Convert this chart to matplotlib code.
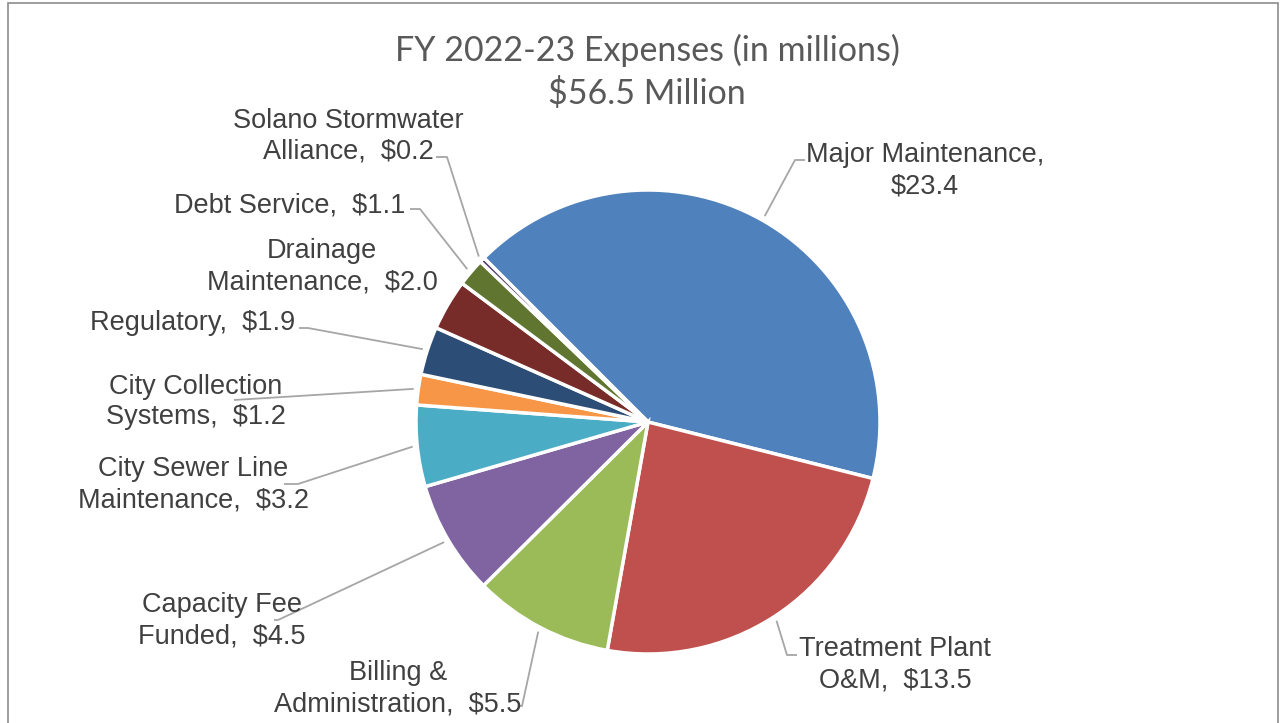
import numpy as np
import matplotlib
matplotlib.use("Agg")
import matplotlib.pyplot as plt
from matplotlib.patches import Rectangle

# ---- data ----
categories = ["Major Maintenance", "Treatment Plant\nO&M", "Billing &\nAdministration",
              "Capacity Fee\nFunded", "City Sewer Line\nMaintenance", "City Collection\nSystems",
              "Regulatory", "Drainage\nMaintenance", "Debt Service", "Solano Stormwater\nAlliance"]
values = [23.4, 13.5, 5.5, 4.5, 3.2, 1.2, 1.9, 2.0, 1.1, 0.2]
colors = ["#4F81BD", "#C0504D", "#9BBB59", "#8064A2", "#4BACC6", "#F79646",
          "#2C4D75", "#772C2A", "#5F7530", "#4D3B62"]
label_texts = ["Major Maintenance,\n$23.4", "Treatment Plant\nO&M,  $13.5",
               "Billing &\nAdministration,  $5.5", "Capacity Fee\nFunded,  $4.5",
               "City Sewer Line\nMaintenance,  $3.2", "City Collection\nSystems,  $1.2",
               "Regulatory,  $1.9", "Drainage\nMaintenance,  $2.0", "Debt Service,  $1.1",
               "Solano Stormwater\nAlliance,  $0.2"]
title_lines = ["FY 2022-23 Expenses (in millions)", "$56.5 Million"]

# ---- layout (pixel units, y measured from top) ----
W, H = 1283, 723
CX, CY, R = 648, 422, 232
label_pos = [(925, 171), (895, 665), (398, 689), (222, 621), (193, 485),
             (196, 402), (193, 323), (322, 267), (290, 205), (348, 136)]
# knee and stub end of leader lines (None => no leader)
knees = [((795, 160), (805, 160)), ((787, 655), (797, 655)), ((522, 706), (518, 706)),
         ((278, 620), (274, 620)), ((298, 484), (284, 484)), ((234, 400), (234, 400)),
         ((308, 328), (299, 328)), None, ((420, 209), (410, 209)), ((447, 157), (436, 157))]

fig = plt.figure(figsize=(W / 100, H / 100), dpi=100)
ax = fig.add_axes([0, 0, 1, 1])

wedges, _ = ax.pie(values, colors=colors, startangle=135, counterclock=False,
                   center=(CX, H - CY), radius=R,
                   wedgeprops=dict(edgecolor="white", linewidth=2.5))
ax.set_xlim(0, W)
ax.set_ylim(0, H)
ax.set_aspect("equal")
ax.axis("off")

# chart border
ax.add_patch(Rectangle((8, -10), 1270, H - 3 + 10, fill=False, edgecolor="#8C8C8C",
                       linewidth=1.2, zorder=0))

lab_font = dict(family=["Liberation Sans", "DejaVu Sans"], size=19.5, color="#404040")
for w, txt, (lx, ly), kn in zip(wedges, label_texts, label_pos, knees):
    ang = np.deg2rad((w.theta1 + w.theta2) / 2)
    px = CX + R * 1.02 * np.cos(ang)
    py = (H - CY) + R * 1.02 * np.sin(ang)
    if kn is not None:
        (kx, ky), (sx, sy) = kn
        ax.plot([px, kx, sx], [py, H - ky, H - sy], color="#A6A6A6", lw=1.3,
                solid_capstyle="butt", zorder=1)
    ax.text(lx, H - ly, txt, ha="center", va="center", linespacing=1.25, zorder=3, **lab_font)

title_font = dict(family=["Lato", "DejaVu Sans"], size=24.5, color="#595959")
ax.text(647, H - 50, title_lines[0], ha="center", va="center", **title_font)
ax.text(647, H - 94, title_lines[1], ha="center", va="center", **title_font)

fig.savefig("out.png", dpi=100)
